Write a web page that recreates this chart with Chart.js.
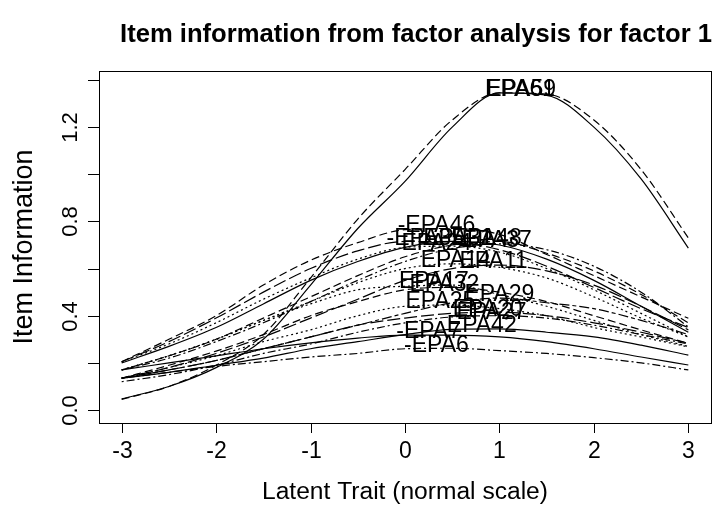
<!DOCTYPE html>
<html>
<head>
<meta charset="utf-8">
<script src="https://cdn.jsdelivr.net/npm/chart.js@4.4.1/dist/chart.umd.min.js"></script>
<style>
  html, body { margin: 0; padding: 0; background: #fff; }
  #wrap { width: 728px; height: 511px; }
</style>
</head>
<body>
<div id="wrap"><canvas id="iic" width="728" height="511"></canvas></div>
<script>
// Latent trait grid (x values) and the information
const theta = [-3, -2.5, -2, -1.5, -1, -0.5, 0, 0.5, 1, 1.5, 2, 2.5, 3];

const infoEPA61 = [0.047, 0.10, 0.18, 0.30, 0.53, 0.77, 0.97, 1.20, 1.345, 1.335, 1.20, 0.98, 0.687];
const infoEPA59 = [0.045, 0.10, 0.19, 0.32, 0.56, 0.81, 1.02, 1.23, 1.345, 1.34, 1.23, 1.02, 0.73];
const infoEPA46 = [0.205, 0.30, 0.40, 0.53, 0.635, 0.71, 0.765, 0.77, 0.745, 0.66, 0.57, 0.48, 0.389];
const infoEPA35 = [0.205, 0.29, 0.39, 0.50, 0.60, 0.675, 0.715, 0.712, 0.68, 0.61, 0.52, 0.43, 0.35];
const infoEPA31 = [0.20, 0.27, 0.35, 0.45, 0.55, 0.63, 0.69, 0.715, 0.70, 0.64, 0.55, 0.44, 0.33];
const infoEPA48 = [0.17, 0.23, 0.30, 0.39, 0.48, 0.57, 0.65, 0.70, 0.715, 0.665, 0.59, 0.49, 0.37];
const infoEPA24 = [0.205, 0.28, 0.37, 0.47, 0.56, 0.64, 0.69, 0.695, 0.67, 0.60, 0.51, 0.41, 0.31];
const infoEPA37 = [0.17, 0.22, 0.29, 0.37, 0.46, 0.55, 0.63, 0.685, 0.705, 0.68, 0.61, 0.50, 0.353];
const infoEPA14 = [0.17, 0.23, 0.30, 0.38, 0.46, 0.54, 0.60, 0.62, 0.605, 0.56, 0.48, 0.39, 0.31];
const infoEPA11 = [0.135, 0.18, 0.24, 0.31, 0.39, 0.47, 0.55, 0.60, 0.615, 0.59, 0.53, 0.44, 0.34];
const infoEPA17 = [0.17, 0.23, 0.30, 0.38, 0.45, 0.51, 0.525, 0.53, 0.49, 0.44, 0.38, 0.32, 0.27];
const infoEPA32 = [0.135, 0.19, 0.25, 0.32, 0.40, 0.46, 0.51, 0.52, 0.50, 0.46, 0.40, 0.34, 0.283];
const infoEPA29 = [0.135, 0.17, 0.21, 0.26, 0.31, 0.36, 0.41, 0.455, 0.475, 0.455, 0.43, 0.38, 0.32];
const infoEPA25 = [0.135, 0.18, 0.23, 0.29, 0.34, 0.40, 0.44, 0.445, 0.43, 0.40, 0.35, 0.31, 0.268];
const infoEPA20 = [0.135, 0.17, 0.21, 0.26, 0.31, 0.36, 0.39, 0.41, 0.415, 0.40, 0.37, 0.33, 0.283];
const infoEPA27 = [0.12, 0.15, 0.19, 0.24, 0.28, 0.33, 0.37, 0.395, 0.40, 0.39, 0.36, 0.32, 0.28];
const infoEPA42 = [0.135, 0.16, 0.19, 0.22, 0.26, 0.29, 0.32, 0.342, 0.344, 0.33, 0.31, 0.275, 0.233];
const infoEPA7  = [0.17, 0.20, 0.23, 0.26, 0.285, 0.305, 0.318, 0.318, 0.31, 0.29, 0.26, 0.225, 0.191];
const infoEPA6  = [0.135, 0.16, 0.185, 0.205, 0.225, 0.24, 0.26, 0.262, 0.252, 0.24, 0.222, 0.20, 0.17];

const itemLabels = ['EPA61', 'EPA59', '-EPA46', '-EPA35', 'EPA31', 'EPA48', 'EPA24', 'EPA37',
                    'EPA14', 'EPA11', 'EPA17', 'EPA32', 'EPA29', 'EPA25', 'EPA20', 'EPA27',
                    'EPA42', '-EPA7', '-EPA6'];
const itemInfo = [infoEPA61, infoEPA59, infoEPA46, infoEPA35, infoEPA31, infoEPA48, infoEPA24, infoEPA37,
                  infoEPA14, infoEPA11, infoEPA17, infoEPA32, infoEPA29, infoEPA25, infoEPA20, infoEPA27,
                  infoEPA42, infoEPA7, infoEPA6];

const xTicks = [-3, -2, -1, 0, 1, 2, 3];
const yTicks = [0, 0.2, 0.4, 0.6, 0.8, 1.0, 1.2, 1.4];
const yTickLabels = ['0.0', '', '0.4', '', '0.8', '', '1.2', ''];

// R style line types
const dashes = {
    solid: [],
    dashed: [8, 4],
    dotted: [2, 3],
    dotdash: [2, 3, 8, 3],
    longdash: [13, 4],
    twodash: [4, 3, 10, 3]
};
const itemLty = ['solid', 'dashed', 'dashed', 'longdash', 'solid', 'dashed', 'dotted', 'dotdash',
                 'dotted', 'longdash', 'dotted', 'dashed', 'twodash', 'dotted', 'longdash', 'dotdash',
                 'solid', 'solid', 'dotdash'];

const FONT = '"Liberation Sans", Arial, sans-serif';

function fitFont(ctx, text, width, weight) {
    ctx.font = weight + ' 20px ' + FONT;
    const w = ctx.measureText(text).width;
    return weight + ' ' + (20 * width / w).toFixed(2) + 'px ' + FONT;
}

// Peak of a curve, refined with a parabola through the three top points
function peakOf(values) {
    let k = 0;
    values.forEach((v, i) => { if (v > values[k]) k = i; });
    if (k === 0 || k === values.length - 1) return { x: theta[k], y: values[k] };
    const y0 = values[k - 1], y1 = values[k], y2 = values[k + 1];
    const h = theta[k + 1] - theta[k];
    const d = y0 - 2 * y1 + y2;
    const off = d === 0 ? 0 : h * (y0 - y2) / (2 * d);
    return { x: theta[k] + off, y: y1 };
}

const rFrame = {
    id: 'rFrame',
    afterDraw(chart) {
        const ctx = chart.ctx;
        const a = chart.chartArea;
        const xs = chart.scales.x, ys = chart.scales.y;
        ctx.save();
        ctx.strokeStyle = '#000';
        ctx.fillStyle = '#000';
        ctx.lineWidth = 1;

        // box
        ctx.strokeRect(Math.round(a.left) + 0.5, Math.round(a.top) + 0.5,
                       Math.round(a.right - a.left), Math.round(a.bottom - a.top));

        // x axis ticks + labels
        ctx.font = '23px ' + FONT;
        ctx.textAlign = 'center';
        ctx.textBaseline = 'middle';
        xTicks.forEach(t => {
            const px = Math.round(xs.getPixelForValue(t)) + 0.5;
            ctx.beginPath();
            ctx.moveTo(px, a.bottom);
            ctx.lineTo(px, a.bottom + 10);
            ctx.stroke();
            ctx.fillText(String(t), px, 452);
        });

        // y axis ticks + rotated labels
        yTicks.forEach((t, i) => {
            const py = Math.round(ys.getPixelForValue(t)) + 0.5;
            ctx.beginPath();
            ctx.moveTo(a.left, py);
            ctx.lineTo(a.left - 11, py);
            ctx.stroke();
            if (yTickLabels[i]) {
                ctx.save();
                ctx.translate(71, py);
                ctx.rotate(-Math.PI / 2);
                ctx.font = '22px ' + FONT;
                ctx.fillText(yTickLabels[i], 0, 0);
                ctx.restore();
            }
        });

        // titles
        ctx.font = fitFont(ctx, 'Item information from factor analysis for factor 1', 592, 'bold');
        ctx.fillText('Item information from factor analysis for factor 1', (a.left + a.right) / 2 + 11, 35);
        ctx.font = fitFont(ctx, 'Latent Trait (normal scale)', 286, 'normal');
        ctx.fillText('Latent Trait (normal scale)', (a.left + a.right) / 2, 492);
        ctx.save();
        ctx.translate(25, 247);
        ctx.rotate(-Math.PI / 2);
        ctx.font = fitFont(ctx, 'Item Information', 195, 'normal');
        ctx.fillText('Item Information', 0, 0);
        ctx.restore();

        // item labels at each curve's maximum
        ctx.font = '23px ' + FONT;
        itemInfo.forEach((vals, i) => {
            const p = peakOf(vals);
            ctx.fillText(itemLabels[i], xs.getPixelForValue(p.x), ys.getPixelForValue(p.y) - 3);
        });
        ctx.restore();
    }
};

const datasets = itemInfo.map((vals, i) => ({
    label: itemLabels[i],
    data: vals.map((v, j) => ({ x: theta[j], y: v })),
    borderColor: '#000',
    borderWidth: 1.2,
    borderDash: dashes[itemLty[i]],
    pointRadius: 0,
    fill: false,
    tension: 0.4,
    cubicInterpolationMode: 'monotone'
}));

new Chart(document.getElementById('iic'), {
    type: 'line',
    data: { datasets: datasets },
    options: {
        responsive: false,
        animation: false,
        events: [],
        layout: { padding: { left: 99, right: 17, top: 71, bottom: 88 } },
        plugins: { legend: { display: false }, tooltip: { enabled: false } },
        scales: {
            x: { type: 'linear', min: -3.24, max: 3.24, display: false },
            y: { type: 'linear', min: -0.055, max: 1.438, display: false }
        }
    },
    plugins: [rFrame]
});
</script>
</body>
</html>
